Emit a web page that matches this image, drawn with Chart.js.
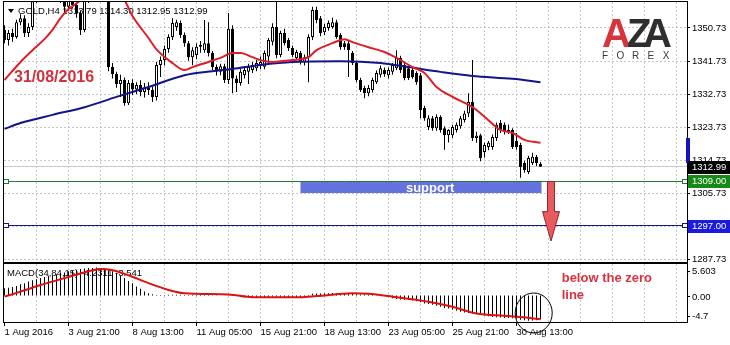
<!DOCTYPE html>
<html>
<head>
<meta charset="utf-8">
<script src="https://cdn.jsdelivr.net/npm/chart.js@4.4.0/dist/chart.umd.min.js"></script>
<style>
  html, body { margin: 0; padding: 0; background: #fff; }
  #wrap { position: relative; width: 730px; height: 345px; overflow: hidden; background: #fff; }
  canvas { position: absolute; left: 0; }
  #main { top: 0; }
  #macd { top: 263px; }
</style>
</head>
<body>
<div id="wrap">
  <canvas id="main" width="730" height="263"></canvas>
  <canvas id="macd" width="730" height="82"></canvas>
</div>
<script>
// --- GOLD H4 chart, 1 Aug - 31 Aug 2016 ---

const FONT = '"Liberation Sans", Arial, sans-serif';

// candles, one per H4 bar (bar 0 = 1 Aug 2016)
const opens = [
  1350.2, 1347.5, 1349.4, 1348.3, 1352.3, 1353.4, 1349.4, 1351.0, 1358.0, 1361.5,
  1364.0, 1366.0, 1363.0, 1364.5, 1361.0, 1359.5, 1356.5, 1358.5, 1357.0, 1354.8,
  1350.2, 1358.3, 1361.5, 1363.0, 1361.5, 1363.5, 1362.5, 1340.1, 1338.2, 1335.5,
  1336.6, 1330.3, 1335.8, 1334.0, 1335.2, 1333.3, 1334.6, 1333.9, 1332.0, 1340.7,
  1342.0, 1345.0, 1348.3, 1351.0, 1352.1, 1348.8, 1346.6, 1342.8, 1343.4, 1345.6,
  1344.7, 1346.6, 1343.9, 1340.1, 1338.8, 1340.3, 1336.6, 1350.5, 1337.0, 1335.8,
  1337.9, 1338.8, 1339.3, 1339.8, 1340.7, 1340.2, 1343.0, 1347.0, 1351.0, 1343.4,
  1349.4, 1347.5, 1345.3, 1342.6, 1343.9, 1341.5, 1342.8, 1348.3, 1355.6, 1353.4,
  1349.6, 1350.7, 1351.0, 1352.3, 1348.8, 1346.6, 1346.6, 1343.9, 1341.2, 1336.6,
  1334.4, 1333.0, 1333.9, 1336.0, 1338.0, 1339.3, 1337.9, 1338.8, 1339.8, 1342.6,
  1340.7, 1339.8, 1339.3, 1338.5, 1337.9, 1329.0, 1323.8, 1326.2, 1323.5, 1326.5,
  1323.5, 1321.6, 1321.6, 1323.0, 1324.0, 1325.7, 1327.5, 1330.6, 1320.8, 1321.6,
  1317.0, 1318.4, 1318.4, 1320.8, 1324.9, 1324.4, 1322.5, 1323.0, 1320.0, 1318.9,
  1314.0, 1311.6, 1314.0, 1315.7, 1313.79
];
const highs = [
  1351.5, 1350.2, 1350.5, 1353.0, 1354.5, 1354.2, 1352.0, 1360.0, 1363.0, 1366.0,
  1367.5, 1367.0, 1366.0, 1365.0, 1362.0, 1360.5, 1360.0, 1360.0, 1358.5, 1355.5,
  1360.5, 1363.0, 1365.0, 1364.0, 1365.0, 1364.5, 1364.0, 1341.2, 1338.8, 1338.0,
  1337.3, 1336.6, 1336.8, 1336.0, 1336.5, 1335.8, 1336.0, 1334.8, 1341.5, 1343.0,
  1346.0, 1349.0, 1353.4, 1353.0, 1352.8, 1349.5, 1347.2, 1345.5, 1346.5, 1347.2,
  1352.9, 1352.3, 1344.5, 1340.8, 1341.0, 1341.0, 1354.8, 1351.5, 1337.8, 1339.5,
  1340.0, 1341.0, 1341.5, 1342.0, 1343.0, 1344.6, 1348.0, 1352.0, 1358.3, 1350.0,
  1350.5, 1348.0, 1346.0, 1344.8, 1344.5, 1343.5, 1349.0, 1356.5, 1356.5, 1354.0,
  1351.8, 1352.8, 1353.5, 1353.0, 1349.4, 1347.2, 1347.3, 1344.5, 1341.8, 1337.2,
  1335.0, 1335.2, 1337.2, 1339.2, 1340.5, 1340.0, 1340.0, 1341.2, 1344.7, 1343.2,
  1341.5, 1340.5, 1340.0, 1339.0, 1338.5, 1329.6, 1327.0, 1326.8, 1327.3, 1327.0,
  1324.0, 1323.2, 1324.4, 1325.0, 1326.8, 1328.2, 1333.0, 1342.0, 1322.5, 1322.0,
  1319.5, 1320.0, 1321.8, 1325.0, 1325.7, 1325.0, 1324.5, 1323.5, 1322.2, 1319.5,
  1314.6, 1316.0, 1316.8, 1316.2, 1314.30
];
const lows = [
  1346.6, 1346.0, 1347.0, 1347.8, 1351.5, 1348.3, 1348.3, 1350.2, 1357.5, 1360.5,
  1362.5, 1361.5, 1361.5, 1359.5, 1357.5, 1355.0, 1355.5, 1356.0, 1353.5, 1348.8,
  1349.6, 1357.5, 1360.5, 1360.0, 1360.8, 1360.5, 1339.0, 1337.0, 1334.5, 1332.0,
  1329.6, 1329.8, 1332.5, 1332.8, 1332.2, 1331.8, 1332.5, 1330.6, 1331.0, 1337.4,
  1340.5, 1344.0, 1347.5, 1350.0, 1348.0, 1345.6, 1341.8, 1340.6, 1342.3, 1344.0,
  1344.0, 1343.0, 1339.3, 1337.8, 1337.9, 1335.8, 1335.5, 1333.0, 1333.3, 1335.0,
  1337.0, 1335.5, 1338.5, 1339.0, 1339.5, 1339.5, 1341.0, 1346.0, 1342.5, 1342.8,
  1346.0, 1344.5, 1342.8, 1342.0, 1340.8, 1340.5, 1336.0, 1347.5, 1352.0, 1348.5,
  1348.8, 1350.0, 1350.5, 1347.8, 1344.8, 1344.8, 1337.4, 1340.7, 1336.0, 1333.3,
  1331.6, 1332.2, 1333.2, 1335.5, 1337.3, 1337.5, 1337.0, 1338.0, 1339.3, 1338.5,
  1336.5, 1336.6, 1336.9, 1335.3, 1326.2, 1325.5, 1323.0, 1322.8, 1322.8, 1322.3,
  1317.6, 1319.6, 1320.8, 1322.3, 1323.3, 1325.0, 1326.5, 1320.0, 1319.5, 1314.5,
  1315.5, 1317.5, 1317.6, 1320.0, 1322.2, 1321.8, 1321.9, 1317.8, 1317.6, 1310.0,
  1311.4, 1311.0, 1313.5, 1313.2, 1312.95
];
const closes = [
  1347.5, 1349.4, 1348.3, 1352.3, 1353.4, 1349.4, 1351.0, 1358.0, 1361.5, 1364.0,
  1366.0, 1363.0, 1364.5, 1361.0, 1359.5, 1356.5, 1358.5, 1357.0, 1354.8, 1350.2,
  1358.3, 1361.5, 1363.0, 1361.5, 1363.5, 1362.5, 1340.1, 1338.2, 1335.5, 1336.6,
  1330.3, 1335.8, 1334.0, 1335.2, 1333.3, 1334.6, 1333.9, 1332.0, 1340.7, 1342.0,
  1345.0, 1348.3, 1352.1, 1352.3, 1348.8, 1346.6, 1342.8, 1344.7, 1345.6, 1346.1,
  1346.6, 1343.9, 1340.1, 1338.8, 1340.3, 1336.6, 1350.5, 1337.0, 1335.8, 1338.8,
  1339.3, 1340.1, 1340.7, 1341.2, 1341.5, 1343.9, 1347.5, 1351.0, 1343.4, 1349.4,
  1346.6, 1345.3, 1343.4, 1344.2, 1341.5, 1342.8, 1348.3, 1355.6, 1352.9, 1349.4,
  1351.0, 1352.1, 1352.3, 1348.3, 1345.5, 1345.5, 1344.7, 1341.2, 1336.6, 1333.9,
  1333.0, 1334.4, 1336.6, 1338.5, 1339.8, 1338.2, 1339.3, 1340.7, 1342.6, 1339.3,
  1337.1, 1337.1, 1337.4, 1336.0, 1328.4, 1326.2, 1326.2, 1323.5, 1326.5, 1323.0,
  1321.6, 1323.0, 1323.8, 1324.4, 1326.2, 1327.5, 1330.6, 1320.8, 1321.4, 1315.4,
  1318.9, 1319.5, 1321.1, 1324.4, 1323.0, 1322.5, 1323.0, 1318.4, 1318.4, 1312.9,
  1312.1, 1315.4, 1315.7, 1314.0, 1312.99
];

// red moving average (read at these bars)
const fastMaBars = [0, 4, 7, 10, 12, 14, 16, 18, 20, 24, 28, 30, 32, 36, 38, 42, 45, 47, 51, 54,
  57, 59, 62, 64, 67, 72, 76, 78, 82, 85, 87, 91, 95, 98, 102, 105, 108, 112, 117, 120,
  124, 127, 130, 134];
const fastMaValues = [1336.6, 1341.5, 1344.7, 1347.7, 1350.2, 1353.4, 1355.9, 1357.4, 1359.0, 1360.8,
  1360.4, 1358.3, 1354.0, 1348.0, 1344.9, 1341.2, 1339.3, 1340.1, 1341.5, 1342.6,
  1343.9, 1343.9, 1342.8, 1342.0, 1341.5, 1342.0, 1342.8, 1344.7, 1346.6, 1347.7,
  1346.9, 1345.5, 1344.2, 1342.6, 1340.1, 1338.5, 1334.7, 1332.0, 1329.2, 1326.6,
  1323.0, 1322.2, 1320.3, 1319.5];

// blue moving average
const slowMaBars = [0, 4, 12, 20, 28, 36, 45, 52, 57, 64, 72, 84, 94, 101, 109, 117, 127, 134];
const slowMaValues = [1323.3, 1324.9, 1327.1, 1329.2, 1332.0, 1334.7, 1337.9, 1339.0, 1339.6, 1340.7,
  1341.5, 1341.7, 1341.2, 1340.1, 1338.8, 1337.7, 1336.9, 1336.0];

// MACD histogram, one value per bar
const macdHist = [
  1.3, 1.4, 1.5, 1.7, 2.0, 2.2, 2.5, 2.7, 2.9, 3.1,
  3.3, 3.5, 3.6, 3.8, 4.0, 4.1, 4.3, 4.4, 4.5, 4.7,
  4.8, 4.9, 4.9, 5.0, 4.9, 4.8, 4.5, 4.3, 4.0, 3.5,
  3.1, 2.6, 2.2, 1.6, 1.2, 0.7, 0.4, 0.25, 0.1, 0.08,
  0.1, 0.12, 0.15, 0.15, 0.12, 0.1, 0.1, 0.12, 0.1, 0.08,
  0.08, 0.1, 0.06, 0.04, 0.02, 0.0, 0.05, 0.02, -0.1, -0.2,
  -0.3, -0.3, -0.35, -0.3, -0.3, -0.25, -0.2, -0.15, -0.2, -0.2,
  -0.25, -0.3, -0.3, -0.3, -0.3, -0.2, 0.1, 0.3, 0.35, 0.35,
  0.35, 0.4, 0.45, 0.45, 0.4, 0.4, 0.35, 0.3, 0.25, 0.2,
  0.2, 0.2, 0.1, 0.05, 0.1, 0.0, -0.2, -0.5, -0.6, -0.7,
  -0.75, -0.8, -0.9, -1.0, -1.2, -1.4, -1.5, -1.65, -1.8, -2.0,
  -2.2, -2.3, -2.5, -2.7, -2.9, -3.0, -3.1, -3.2, -3.3, -3.4,
  -3.55, -3.7, -3.8, -3.85, -3.9, -4.0, -4.0, -4.05, -4.1, -4.3,
  -4.4, -4.5, -4.45, -4.4, -4.23
];

// MACD signal line
const signalBars = [0, 4, 9, 16, 22, 24, 27, 31, 36, 41, 45, 56, 62, 74, 78, 87, 91, 97, 106, 112,
  118, 125, 129, 134];
const signalValues = [-0.2, 0.7, 1.86, 3.3, 4.5, 4.7, 4.5, 3.6, 2.2, 1.0, 0.4, 0.2, -0.3, -0.3, -0.1,
  0.4, 0.3, -0.2, -1.1, -2.0, -3.2, -3.6, -3.8, -4.2];

const priceTicks = [1350.73, 1341.73, 1332.73, 1323.73, 1314.73, 1305.73, 1296.73, 1287.73];
const macdTicks = [5.603, 0, -4.7];
const dateTickBars = [0, 16, 32, 48, 64, 80, 96, 112, 128];
const dateLabels = ['1 Aug 2016', '3 Aug 21:00', '8 Aug 13:00', '11 Aug 05:00', '15 Aug 21:00',
  '18 Aug 13:00', '23 Aug 05:00', '25 Aug 21:00', '30 Aug 13:00'];

const bidPrice = 1312.99;
const supportLevel = 1309.00;
const targetLevel = 1297.00;
const supportZone = [74, 134, 1309.0, 1305.9];   // from bar, to bar, top, bottom
const arrowMove = [136.6, 1309.0, 1300.8, 1292.8]; // bar, start, head, tip

// --- helpers ---
const X_MIN = -0.125;
const X_MAX = X_MIN + 683 / 4;

function hLine(ctx, x1, x2, y) {
  ctx.beginPath(); ctx.moveTo(x1, y); ctx.lineTo(x2, y); ctx.stroke();
}
function vLine(ctx, x, y1, y2) {
  ctx.beginPath(); ctx.moveTo(x, y1); ctx.lineTo(x, y2); ctx.stroke();
}
function crisp(v) { return Math.round(v - 0.5) + 0.5; }

function priceBox(ctx, y, bg, text) {
  const py = Math.round(y);
  ctx.fillStyle = bg;
  ctx.fillRect(688, py - 6, 42, 13);
  ctx.fillStyle = '#fff';
  ctx.font = '9.5px ' + FONT;
  ctx.textAlign = 'left'; ctx.textBaseline = 'middle';
  ctx.fillText(text, 692, py + 0.5);
}

function levelLine(ctx, area, y, color) {
  const py = crisp(y);
  ctx.strokeStyle = color; ctx.lineWidth = 1;
  hLine(ctx, area.left, area.right, py);
  ctx.fillStyle = '#fff';
  [3.5, 682.5].forEach(x0 => {
    ctx.fillRect(x0, py - 2, 5, 4);
    ctx.strokeRect(x0, py - 2, 5, 4);
  });
}

// keep the plot area fixed: no extra room for half labels at the ends
function fixAxis(width) {
  return s => { s.width = width; s.paddingTop = 0; s.paddingBottom = 0; };
}

const mainDecor = {
  id: 'mainDecor',
  beforeDatasetsDraw(chart) {
    const { ctx, chartArea: a, scales: { x, y } } = chart;
    ctx.save();
    // dotted grid
    ctx.strokeStyle = '#c6c6c6'; ctx.lineWidth = 1; ctx.setLineDash([2, 2]);
    priceTicks.forEach(v => hLine(ctx, a.left, a.right, crisp(y.getPixelForValue(v))));
    for (let b = 8; b < X_MAX; b += 8) vLine(ctx, x.getPixelForValue(b), a.top, a.bottom);
    ctx.setLineDash([]);
    // bid line
    ctx.strokeStyle = '#c8c8c8';
    hLine(ctx, a.left, a.right, crisp(y.getPixelForValue(bidPrice)));

    // chart title
    ctx.fillStyle = '#000';
    ctx.beginPath(); ctx.moveTo(8, 9); ctx.lineTo(14, 9); ctx.lineTo(11, 13); ctx.closePath(); ctx.fill();
    ctx.font = '9.5px ' + FONT; ctx.textAlign = 'left'; ctx.textBaseline = 'middle';
    ctx.fillText('GOLD,H4 1313.79 1314.30 1312.95 1312.99', 18, 11.5);
    ctx.restore();
  },
  afterDatasetsDraw(chart) {
    const { ctx, chartArea: a, scales: { x, y } } = chart;
    ctx.save();

    // horizontal levels
    levelLine(ctx, a, y.getPixelForValue(supportLevel), '#247a36');
    levelLine(ctx, a, y.getPixelForValue(targetLevel), '#14148c');

    // support zone
    const [zb0, zb1, zTop, zBot] = supportZone;
    const zx0 = Math.round(x.getPixelForValue(zb0)) - 0.5;
    const zx1 = Math.round(x.getPixelForValue(zb1)) + 0.5;
    const zy0 = Math.round(y.getPixelForValue(zTop)) + 1;
    const zy1 = Math.round(y.getPixelForValue(zBot));
    ctx.fillStyle = '#6372dc';
    ctx.fillRect(zx0, zy0, zx1 - zx0, zy1 - zy0);
    ctx.fillStyle = '#fff';
    ctx.font = 'bold 13px ' + FONT; ctx.textAlign = 'center'; ctx.textBaseline = 'middle';
    ctx.fillText('support', x.getPixelForValue(106.4), (zy0 + zy1) / 2 + 0.5);

    // down arrow
    const [ab, aStart, aHead, aTip] = arrowMove;
    const ax = Math.round(x.getPixelForValue(ab));
    const ys = y.getPixelForValue(aStart), yh = y.getPixelForValue(aHead), yt = y.getPixelForValue(aTip);
    ctx.beginPath();
    ctx.moveTo(ax - 3.5, ys); ctx.lineTo(ax + 3.5, ys); ctx.lineTo(ax + 3.5, yh);
    ctx.lineTo(ax + 8.5, yh); ctx.lineTo(ax, yt); ctx.lineTo(ax - 8.5, yh);
    ctx.lineTo(ax - 3.5, yh); ctx.closePath();
    ctx.fillStyle = '#e85a5d'; ctx.fill();
    ctx.strokeStyle = '#8a2a2a'; ctx.lineWidth = 1; ctx.stroke();

    // date stamp
    ctx.fillStyle = '#d2323c';
    ctx.font = 'bold 16px ' + FONT; ctx.textAlign = 'left'; ctx.textBaseline = 'middle';
    ctx.fillText('31/08/2016', 14, 78);

    // logo
    ctx.font = 'bold 40px ' + FONT; ctx.textBaseline = 'alphabetic';
    ctx.fillStyle = '#d8343c'; ctx.fillText('A', 602, 47);
    ctx.fillStyle = '#2e2e30'; ctx.fillText('Z', 627, 47); ctx.fillText('A', 643, 47);
    ctx.font = '10px ' + FONT; ctx.textAlign = 'center'; ctx.textBaseline = 'middle';
    ctx.fillStyle = '#3a3a3a';
    'FOREX'.split('').forEach((ch, i) => ctx.fillText(ch, 605 + i * 15.3, 56.5));

    // frame
    ctx.strokeStyle = '#000'; ctx.lineWidth = 1;
    ctx.strokeRect(a.left - 0.5, a.top - 0.5, a.right - a.left + 1, a.bottom - a.top + 1);

    // axis marker
    ctx.fillStyle = '#1414c0';
    const my0 = Math.round(y.getPixelForValue(1320.8)), my1 = Math.round(y.getPixelForValue(1314.3));
    ctx.fillRect(686, my0, 4, my1 - my0);
    ctx.fillRect(686, my1 - 1, 8, 2);

    // axis price boxes
    priceBox(ctx, y.getPixelForValue(bidPrice), '#000', bidPrice.toFixed(2));
    priceBox(ctx, y.getPixelForValue(supportLevel), '#168a16', supportLevel.toFixed(2));
    priceBox(ctx, y.getPixelForValue(targetLevel), '#1a1ae0', targetLevel.toFixed(2));
    ctx.restore();
  }
};

const macdDecor = {
  id: 'macdDecor',
  beforeDatasetsDraw(chart) {
    const { ctx, chartArea: a, scales: { x } } = chart;
    ctx.save();
    ctx.strokeStyle = '#c6c6c6'; ctx.lineWidth = 1; ctx.setLineDash([2, 2]);
    for (let b = 8; b < X_MAX; b += 8) vLine(ctx, x.getPixelForValue(b), a.top, a.bottom);
    ctx.setLineDash([]);
    ctx.fillStyle = '#000';
    ctx.font = '9.5px ' + FONT; ctx.textAlign = 'left'; ctx.textBaseline = 'middle';
    ctx.fillText('MACD(34,84,15) -4.2311 -3.541', 7, 10.5);
    ctx.restore();
  },
  afterDatasetsDraw(chart) {
    const { ctx, chartArea: a, scales: { x, y } } = chart;
    ctx.save();
    // frame
    ctx.strokeStyle = '#000'; ctx.lineWidth = 1;
    ctx.strokeRect(a.left - 0.5, a.top - 0.5, a.right - a.left + 1, a.bottom - a.top + 1);

    // axis labels (top label sits below its level, bottom one above)
    ctx.fillStyle = '#000';
    ctx.font = '9.5px ' + FONT; ctx.textAlign = 'left'; ctx.textBaseline = 'middle';
    const shift = [7, 1, -6];
    macdTicks.forEach((v, i) => {
      const py = y.getPixelForValue(v);
      hLine(ctx, a.right, a.right + 3, crisp(py + shift[i]));
      ctx.fillText(i === 1 ? '0.00' : String(v), 692, py + shift[i] + 0.5);
    });

    // note
    ctx.fillStyle = '#d7323f';
    ctx.font = 'bold 13px ' + FONT;
    ctx.fillText('below the zero', x.getPixelForValue(139.3), 15);
    ctx.fillText('line', x.getPixelForValue(139.3), 32);

    // circle round the last bars
    ctx.strokeStyle = '#000'; ctx.lineWidth = 1;
    ctx.beginPath();
    ctx.ellipse(x.getPixelForValue(132.3), y.getPixelForValue(-3.1), 18.5, 20, 0, 0, Math.PI * 2);
    ctx.stroke();
    ctx.restore();
  }
};

// --- build charts ---
const wickData = highs.map((h, i) => ({ x: i, y: [lows[i], h] }));
const bodyData = opens.map((o, i) => ({ x: i, y: [Math.min(o, closes[i]), Math.max(o, closes[i]) + (o === closes[i] ? 0.15 : 0)] }));
const bodyFill = opens.map((o, i) => (closes[i] >= o ? '#ffffff' : '#000000'));

const noLegend = { legend: { display: false }, tooltip: { enabled: false } };

new Chart(document.getElementById('main'), {
  type: 'bar',
  data: {
    datasets: [
      { data: wickData, backgroundColor: '#000', barThickness: 1, grouped: false, inflateAmount: 0, order: 3 },
      {
        data: bodyData, backgroundColor: bodyFill, borderColor: '#000', borderWidth: 1,
        borderSkipped: false, barThickness: 3, grouped: false, inflateAmount: 0, order: 2
      },
      {
        type: 'line', data: slowMaBars.map((b, i) => ({ x: b, y: slowMaValues[i] })),
        borderColor: '#13138a', borderWidth: 2, pointRadius: 0, cubicInterpolationMode: 'monotone', order: 1
      },
      {
        type: 'line', data: fastMaBars.map((b, i) => ({ x: b, y: fastMaValues[i] })),
        borderColor: '#dc1f28', borderWidth: 2, pointRadius: 0, cubicInterpolationMode: 'monotone', order: 0
      }
    ]
  },
  options: {
    responsive: false, animation: false, events: [],
    layout: { padding: { left: 4, top: 2, right: 0, bottom: 1 } },
    plugins: noLegend,
    scales: {
      x: { type: 'linear', min: X_MIN, max: X_MAX, offset: false, display: false },
      y: {
        position: 'right', min: 1287.1, max: 1357.8,
        afterBuildTicks: s => { s.ticks = priceTicks.map(v => ({ value: v })); },
        afterFit: fixAxis(43),
        ticks: { callback: v => v.toFixed(2), font: { family: FONT, size: 9.5 }, color: '#000', padding: 2 },
        grid: { drawOnChartArea: false, drawTicks: true, tickLength: 3, color: '#000' },
        border: { display: false }
      }
    }
  },
  plugins: [mainDecor]
});

new Chart(document.getElementById('macd'), {
  type: 'bar',
  data: {
    datasets: [
      {
        data: macdHist.map((v, i) => ({ x: i, y: v })), backgroundColor: '#000',
        barThickness: 1, inflateAmount: 0, order: 2
      },
      {
        type: 'line', data: signalBars.map((b, i) => ({ x: b, y: signalValues[i] })),
        borderColor: '#e01010', borderWidth: 2, pointRadius: 0, cubicInterpolationMode: 'monotone', order: 1
      }
    ]
  },
  options: {
    responsive: false, animation: false, events: [],
    layout: { padding: { left: 4, top: 1, right: 0, bottom: 0 } },
    plugins: noLegend,
    scales: {
      x: {
        type: 'linear', min: X_MIN, max: X_MAX, offset: false,
        afterBuildTicks: s => { s.ticks = dateTickBars.map(v => ({ value: v })); },
        afterFit: s => { s.height = 23; s.paddingLeft = 0; s.paddingRight = 0; },
        ticks: {
          autoSkip: false, maxRotation: 0, align: 'start', padding: 1,
          callback: (v, i) => dateLabels[i], font: { family: FONT, size: 9.5 }, color: '#000'
        },
        grid: { drawOnChartArea: false, drawTicks: true, tickLength: 4, color: '#000', offset: false },
        border: { display: false }
      },
      y: {
        position: 'right', min: -4.7, max: 5.603,
        afterFit: fixAxis(43),
        ticks: { display: false },
        grid: { display: false },
        border: { display: false }
      }
    }
  },
  plugins: [macdDecor]
});
</script>
</body>
</html>
